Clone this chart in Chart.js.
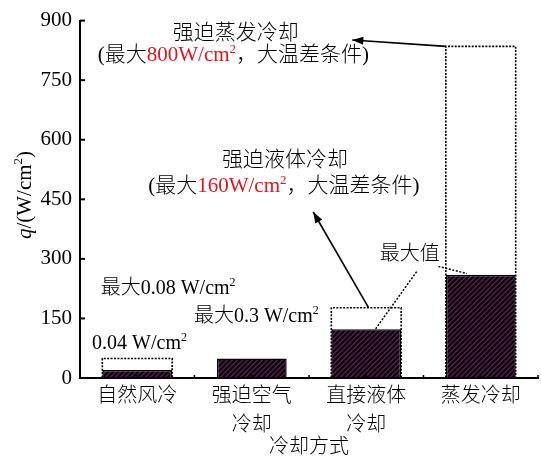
<!DOCTYPE html>
<html><head><meta charset="utf-8">
<script src="https://cdn.jsdelivr.net/npm/chart.js@4"></script>
<style>html,body{margin:0;padding:0;background:#fff}#wrap{width:541px;height:463px}</style>
</head><body><div id="wrap"><canvas id="c" width="541" height="463"></canvas></div>
<script>
// ---- data ----
const categories = [["自然风冷"], ["强迫空气", "冷却"], ["直接液体", "冷却"], ["蒸发冷却"]];
const actualValues = [20, 49, 123, 260];
const maxValues = [49, null, 177, 835];
const yTickValues = [0, 150, 300, 450, 600, 750, 900];
const xTitle = "冷却方式";
const yTitleParts = [["q", "#000", "italic"], ["/(W/cm"], ["2", "#000", "", true], [")"]];

// ---- annotations (data coordinates: x = category index, y = value) ----
const annotationTexts = [
  { x: 0.86, y: 868, size: 21, parts: [["强迫蒸发冷却"]] },
  { x: 0.84, y: 811, size: 21, parts: [["(最大"], ["800W/cm", "#e8141b"], ["2", "#e8141b", "", true], ["，大温差条件)"]] },
  { x: 1.29, y: 548, size: 21, parts: [["强迫液体冷却"]] },
  { x: 1.28, y: 482, size: 21, parts: [["(最大"], ["160W/cm", "#e8141b"], ["2", "#e8141b", "", true], ["，大温差条件)"]] },
  { x: 2.38, y: 310, size: 20, parts: [["最大值"]] },
  { x: 0.27, y: 224, size: 20, parts: [["最大0.08 W/cm"], ["2", "#000", "", true]] },
  { x: 1.04, y: 155, size: 20, parts: [["最大0.3 W/cm"], ["2", "#000", "", true]] },
  { x: 0.02, y: 86, size: 20, parts: [["0.04 W/cm"], ["2", "#000", "", true]] }
];
const arrows = [
  { from: [2.695, 835], to: [1.878, 851] },
  { from: [2.02, 177], to: [1.537, 418] }
];
const leaders = [
  { from: [2.44, 268], to: [2.08, 123] },
  { from: [2.63, 281], to: [2.88, 263] }
];

const FONT = '"Liberation Serif","Noto Sans CJK SC",serif';

function makePattern(ctx) {
  const s = 5;
  const c = document.createElement('canvas'); c.width = s; c.height = s;
  const g = c.getContext('2d');
  g.fillStyle = '#5c1a54'; g.fillRect(0, 0, s, s);
  g.strokeStyle = '#000'; g.lineWidth = 2.1;
  g.beginPath();
  g.moveTo(-1, s + 1); g.lineTo(s + 1, -1);
  g.moveTo(-1, 1); g.lineTo(1, -1);
  g.moveTo(s - 1, s + 1); g.lineTo(s + 1, s - 1);
  g.stroke();
  return ctx.createPattern(c, 'repeat');
}

function drawRich(ctx, parts, size, cx, cy) {
  const supSize = Math.round(size * 0.62);
  const segs = parts.map(p => {
    const sup = !!p[3];
    const f = (p[2] ? p[2] + ' ' : '') + '300 ' + (sup ? supSize : size) + 'px ' + FONT;
    ctx.font = f;
    return { t: p[0], c: p[1] || '#000', f, sup, w: ctx.measureText(p[0]).width };
  });
  const total = segs.reduce((a, s) => a + s.w, 0);
  let x = cx - total / 2;
  ctx.textBaseline = 'middle';
  ctx.textAlign = 'left';
  segs.forEach(s => {
    ctx.font = s.f; ctx.fillStyle = s.c;
    ctx.fillText(s.t, x, s.sup ? cy - size * 0.3 : cy);
    x += s.w;
  });
}

function arrowHead(ctx, x1, y1, x2, y2) {
  const a = Math.atan2(y2 - y1, x2 - x1), L = 11, W = 4;
  ctx.beginPath();
  ctx.moveTo(x2, y2);
  ctx.lineTo(x2 - L * Math.cos(a) + W * Math.sin(a), y2 - L * Math.sin(a) - W * Math.cos(a));
  ctx.lineTo(x2 - L * Math.cos(a) - W * Math.sin(a), y2 - L * Math.sin(a) + W * Math.cos(a));
  ctx.closePath(); ctx.fill();
}

const decor = {
  id: 'decor',
  beforeDatasetsDraw(chart) {
    const ctx = chart.ctx;
    const meta = chart.getDatasetMeta(0);
    ctx.save();
    ctx.strokeStyle = '#000'; ctx.lineWidth = 1.6; ctx.setLineDash([2, 1.4]);
    meta.data.forEach((el, i) => {
      if (maxValues[i] == null) return;
      const l = el.x - el.width / 2, r = el.x + el.width / 2;
      ctx.beginPath();
      ctx.moveTo(l, el.base); ctx.lineTo(l, el.y); ctx.lineTo(r, el.y); ctx.lineTo(r, el.base);
      ctx.stroke();
    });
    ctx.restore();
  },
  afterDraw(chart) {
    const ctx = chart.ctx, xs = chart.scales.x, ys = chart.scales.y, ca = chart.chartArea;
    const P = (p) => [xs.getPixelForValue(p[0]), ys.getPixelForValue(p[1])];
    ctx.save();
    ctx.strokeStyle = '#000'; ctx.lineWidth = 2;
    yTickValues.forEach(v => {
      const y = ys.getPixelForValue(v);
      ctx.beginPath(); ctx.moveTo(ca.left, y); ctx.lineTo(ca.left + 5, y); ctx.stroke();
    });
    ctx.lineWidth = 1.5;
    for (let k = 0; k <= categories.length * 2; k++) {
      const x = xs.getPixelForValue(k / 2 - 0.5);
      ctx.beginPath(); ctx.moveTo(x, ca.bottom); ctx.lineTo(x, ca.bottom - 3); ctx.stroke();
    }
    ctx.lineWidth = 1.5; ctx.setLineDash([2, 1.6]);
    leaders.forEach(l => {
      const a = P(l.from), b = P(l.to);
      ctx.beginPath(); ctx.moveTo(a[0], a[1]); ctx.lineTo(b[0], b[1]); ctx.stroke();
    });
    ctx.setLineDash([]);
    ctx.lineWidth = 1.6; ctx.fillStyle = '#000';
    arrows.forEach(ar => {
      const a = P(ar.from), b = P(ar.to);
      ctx.beginPath(); ctx.moveTo(a[0], a[1]); ctx.lineTo(b[0], b[1]); ctx.stroke();
      arrowHead(ctx, a[0], a[1], b[0], b[1]);
    });
    annotationTexts.forEach(t => {
      const p = P([t.x, t.y]);
      drawRich(ctx, t.parts, t.size, p[0], p[1]);
    });
    drawRich(ctx, [[xTitle]], 20, (ca.left + ca.right) / 2, 448);
    ctx.translate(25, 195); ctx.rotate(-Math.PI / 2);
    drawRich(ctx, yTitleParts, 21, 0, 0);
    ctx.restore();
  }
};

const ctx = document.getElementById('c').getContext('2d');
const pattern = makePattern(ctx);

new Chart(ctx, {
  type: 'bar',
  data: {
    labels: categories,
    datasets: [
      { label: '最大值', data: maxValues, backgroundColor: 'rgba(0,0,0,0)', borderWidth: 0 },
      { label: '实际值', data: actualValues, backgroundColor: pattern, borderColor: '#000', borderWidth: 1.5, borderSkipped: 'bottom' }
    ]
  },
  options: {
    responsive: false, animation: false, devicePixelRatio: 1,
    layout: { padding: { top: 12, right: 3, left: 0, bottom: 0 } },
    datasets: { bar: { grouped: false, categoryPercentage: 1, barPercentage: 0.61 } },
    plugins: { legend: { display: false }, tooltip: { enabled: false } },
    scales: {
      x: {
        grid: { display: true, drawOnChartArea: false, drawTicks: false, color: 'rgba(0,0,0,0)' },
        border: { display: true, color: '#000', width: 2 },
        ticks: { color: '#000', padding: 4, maxRotation: 0, autoSkip: false,
                 font: { family: FONT, size: 20, weight: 300, lineHeight: 1.45 } },
        afterFit(s) { s.height = 85; }
      },
      y: {
        min: 0, max: 900,
        afterBuildTicks(s) { s.ticks = yTickValues.map(v => ({ value: v })); },
        grid: { display: true, drawOnChartArea: false, drawTicks: false, color: 'rgba(0,0,0,0)' },
        border: { display: true, color: '#000', width: 2 },
        ticks: { color: '#000', padding: 8, font: { family: FONT, size: 21, weight: 300 } },
        afterFit(s) { s.width = 80; }
      }
    }
  },
  plugins: [decor]
});
</script>
</body></html>
